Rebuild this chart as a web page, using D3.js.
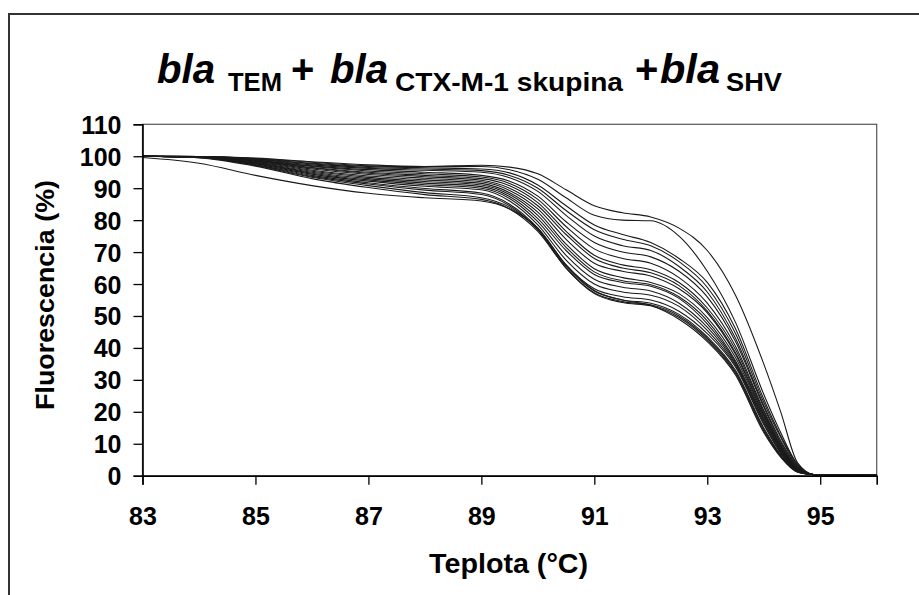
<!DOCTYPE html>
<html>
<head>
<meta charset="utf-8">
<script src="https://cdn.jsdelivr.net/npm/d3@7"></script>
<style>
  html, body { margin: 0; padding: 0; background: #fff; }
  svg { display: block; }
  text { font-family: "Liberation Sans", Arial, Helvetica, sans-serif; font-weight: bold; fill: #000; }
</style>
</head>
<body>
<script>
// Melt-curve temperatures (°C) at which each curve is sampled
const temps = [83, 84, 85, 86, 87, 88, 89, 89.5, 90, 90.5, 91, 91.5, 92, 92.5, 93, 93.5, 94, 94.3, 94.6, 94.9, 95.2, 96];

// Normalised fluorescence (%) for each sample
const c1  = [100, 99.9, 99.4, 98.3, 97.3, 96.8, 97.2, 96.6, 94.5, 89.5, 84.5, 82.3, 81.0, 77.5, 70.5, 56.5, 35.0, 20.0, 4.0, 0.3, 0.2, 0.3];
const c2  = [100, 99.9, 99.3, 98.1, 97.0, 96.7, 96.8, 95.8, 92.8, 87.0, 81.5, 80.0, 79.8, 75.0, 64.0, 48.0, 25.5, 13.5, 3.5, 0.3, 0.1, 0.2];
const c3  = [100, 99.9, 99.2, 97.8, 96.8, 96.4, 96.0, 94.8, 91.0, 84.5, 78.5, 75.5, 73.0, 68.0, 60.5, 46.0, 24.0, 12.5, 3.5, 0.3, 0.1, 0.2];
const c4  = [100, 99.9, 99.1, 97.6, 96.5, 96.0, 95.5, 94.0, 90.0, 83.0, 77.0, 74.0, 72.0, 67.0, 59.0, 44.5, 23.0, 12.0, 3.0, 0.3, 0.1, 0.2];
const c5  = [100, 99.9, 99.0, 97.3, 96.2, 95.6, 95.0, 93.3, 89.0, 81.5, 75.0, 72.0, 70.5, 65.5, 57.5, 43.0, 22.0, 11.0, 2.8, 0.3, 0.1, 0.2];
const c6  = [100, 99.8, 98.8, 97.0, 95.8, 95.0, 94.0, 92.2, 87.5, 79.5, 73.0, 70.0, 68.5, 64.0, 56.0, 42.0, 21.5, 10.5, 2.6, 0.3, 0.1, 0.2];
const c7  = [100, 99.8, 98.7, 96.8, 95.4, 94.5, 93.5, 91.5, 86.5, 78.0, 71.0, 68.0, 66.5, 62.0, 54.0, 40.5, 20.5, 10.0, 2.4, 0.3, 0.1, 0.2];
const c8  = [100, 99.8, 98.6, 96.5, 95.0, 94.0, 93.0, 90.8, 85.5, 76.5, 69.0, 66.0, 64.5, 60.5, 52.5, 39.5, 20.0, 9.5, 2.2, 0.3, 0.1, 0.2];
const c9  = [100, 99.8, 98.5, 96.3, 94.7, 93.6, 92.5, 90.0, 84.5, 75.5, 68.0, 65.0, 63.5, 59.5, 51.5, 38.5, 19.5, 9.2, 2.1, 0.3, 0.1, 0.2];
const c10 = [100, 99.8, 98.4, 96.0, 94.3, 93.1, 92.0, 89.3, 83.5, 74.0, 66.5, 64.0, 62.5, 58.5, 51.0, 38.0, 19.0, 9.0, 2.0, 0.3, 0.1, 0.2];
const c11 = [100, 99.7, 98.2, 95.6, 93.8, 92.6, 91.5, 88.6, 82.5, 72.5, 64.8, 62.0, 60.5, 57.0, 49.5, 37.0, 18.5, 8.6, 1.9, 0.3, 0.1, 0.2];
const c12 = [100, 99.7, 98.0, 95.3, 93.4, 92.1, 91.0, 88.0, 81.5, 71.5, 63.8, 61.0, 59.8, 56.0, 48.5, 36.0, 18.0, 8.3, 1.8, 0.3, 0.1, 0.2];
const c13 = [100, 99.7, 97.9, 95.0, 93.0, 91.6, 90.5, 87.4, 80.5, 70.5, 63.0, 60.5, 59.3, 55.5, 47.5, 35.5, 17.5, 8.0, 1.7, 0.3, 0.1, 0.2];
const c14 = [100, 99.7, 97.8, 94.7, 92.6, 91.1, 90.0, 86.8, 79.5, 69.0, 61.5, 59.0, 57.8, 54.0, 46.5, 35.0, 17.0, 7.6, 1.6, 0.3, 0.1, 0.2];
const c15 = [100, 99.7, 97.6, 94.4, 92.2, 90.6, 89.5, 86.0, 78.5, 67.5, 60.0, 57.5, 56.5, 53.0, 45.5, 34.5, 16.5, 7.3, 1.5, 0.3, 0.1, 0.2];
const c16 = [100, 99.6, 97.4, 94.0, 91.7, 89.9, 88.5, 85.0, 77.5, 66.0, 58.5, 56.0, 55.0, 51.5, 44.5, 34.0, 16.0, 7.0, 1.4, 0.3, 0.1, 0.2];
const c17 = [100, 99.6, 97.3, 93.7, 91.3, 89.4, 88.0, 84.5, 77.0, 65.5, 57.8, 55.0, 54.0, 50.5, 43.5, 33.0, 15.0, 6.5, 1.3, 0.3, 0.1, 0.2];
const c18 = [100, 99.6, 97.1, 93.4, 90.8, 88.6, 87.0, 84.0, 77.0, 65.0, 57.3, 54.5, 53.5, 50.0, 43.0, 32.5, 14.5, 6.2, 1.2, 0.3, 0.1, 0.2];
const c19 = [100, 99.5, 96.9, 93.0, 90.2, 88.0, 86.5, 83.5, 76.5, 65.0, 57.0, 54.2, 53.2, 49.5, 42.5, 32.0, 14.0, 6.0, 1.2, 0.3, 0.1, 0.2];
const c20 = [99.6, 97.8, 94.0, 90.8, 88.4, 87.0, 86.0, 83.5, 77.5, 66.0, 58.0, 55.0, 53.3, 49.0, 42.0, 31.5, 13.5, 5.8, 1.1, 0.3, 0.1, 0.2];

const curves = [c1, c2, c3, c4, c5, c6, c7, c8, c9, c10, c11, c12, c13, c14, c15, c16, c17, c18, c19, c20];

// Axis ticks
const xTicks = [83, 85, 87, 89, 91, 93, 95];
const yTicks = [0, 10, 20, 30, 40, 50, 60, 70, 80, 90, 100, 110];

// Text
const xTitle = "Teplota (°C)";
const yTitle = "Fluorescencia (%)";

const W = 919, H = 595;
const plot = { left: 142.5, right: 876.7, top: 124.3, bottom: 475.7 };

const svg = d3.select("body").append("svg").attr("width", W).attr("height", H);

// Outer chart frame (runs past the right and bottom edges)
svg.append("rect")
  .attr("x", 9).attr("y", 14).attr("width", 1000).attr("height", 1000)
  .attr("fill", "#fff").attr("stroke", "#333").attr("stroke-width", 2);

const x = d3.scaleLinear().domain([83, 96]).range([plot.left, plot.right]);
const y = d3.scaleLinear().domain([0, 110]).range([plot.bottom, plot.top]);

// Plot-area box
svg.append("rect")
  .attr("x", plot.left).attr("y", plot.top)
  .attr("width", plot.right - plot.left).attr("height", plot.bottom - plot.top)
  .attr("fill", "none").attr("stroke", "#555").attr("stroke-width", 1.2);

// Curves
svg.append("defs").append("clipPath").attr("id", "plotclip")
  .append("rect")
  .attr("x", plot.left).attr("y", plot.top - 2)
  .attr("width", plot.right - plot.left).attr("height", plot.bottom - plot.top + 2);

const line = d3.line()
  .x((d, i) => x(temps[i]))
  .y(d => y(d))
  .curve(d3.curveMonotoneX);

svg.append("g").attr("clip-path", "url(#plotclip)")
  .selectAll("path").data(curves).join("path")
  .attr("d", line)
  .attr("fill", "none")
  .attr("stroke", "#1a1a1a")
  .attr("stroke-width", 1.1);

// Axes
const xAxis = d3.axisBottom(x).tickValues(xTicks).tickSize(9).tickPadding(14).tickFormat(d3.format("d"));
const yAxis = d3.axisLeft(y).tickValues(yTicks).tickSize(9).tickPadding(12).tickFormat(d3.format("d"));

const gx = svg.append("g").attr("transform", `translate(0,${plot.bottom})`).call(xAxis);
const gy = svg.append("g").attr("transform", `translate(${plot.left},0)`).call(yAxis);

[gx, gy].forEach(g => {
  g.select(".domain").attr("stroke", "#000").attr("stroke-width", 1.6);
  g.selectAll(".tick line").attr("stroke", "#000").attr("stroke-width", 1.3);
  g.selectAll(".tick text")
    .attr("font-family", "'Liberation Sans', Arial, sans-serif")
    .attr("font-weight", "bold").attr("font-size", 25).attr("fill", "#000");
});
gx.selectAll(".tick text").attr("dy", null).attr("y", 49);
gy.selectAll(".tick text").attr("dy", "0.36em");

// Axis titles
svg.append("text")
  .attr("x", (plot.left + plot.right) / 2 - 1).attr("y", 573)
  .attr("text-anchor", "middle").attr("font-size", 27)
  .attr("textLength", 159).attr("lengthAdjust", "spacingAndGlyphs")
  .text(xTitle);

svg.append("text")
  .attr("transform", `translate(54,${(plot.top + plot.bottom) / 2 - 5}) rotate(-90)`)
  .attr("text-anchor", "middle").attr("font-size", 26)
  .attr("textLength", 230).attr("lengthAdjust", "spacingAndGlyphs")
  .text(yTitle);

// Chart title: italic gene name with bold subscripts
const title = svg.append("g");
function part(txt, px, base, size, italic, len) {
  const t = title.append("text")
    .attr("x", px).attr("y", base)
    .attr("font-size", size)
    .attr("font-style", italic ? "italic" : "normal")
    .text(txt);
  if (len) t.attr("textLength", len).attr("lengthAdjust", "spacingAndGlyphs");
  return t;
}
part("bla", 157, 83, 40, true, 58);
part("TEM", 228, 91, 26, false, 54);
part("+", 291, 83, 40, false, null);
part("bla", 330, 83, 40, true, 58);
part("CTX-M-1 skupina", 395, 91, 26, false, 228);
part("+", 635, 83, 40, false, null);
part("bla", 660, 83, 40, true, 60);
part("SHV", 726, 91, 26, false, 56);
</script>
</body>
</html>
